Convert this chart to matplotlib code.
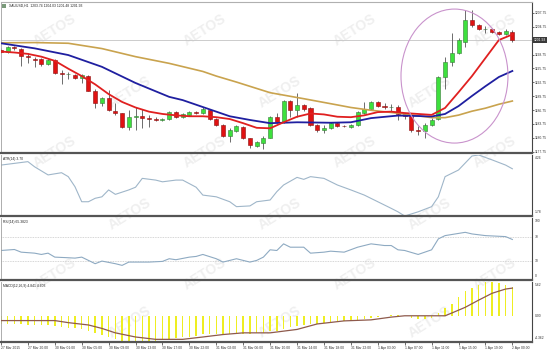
import matplotlib
matplotlib.use("Agg")
import matplotlib.pyplot as plt
import matplotlib.transforms as mtrans
from matplotlib.patches import Rectangle, Ellipse

# XAUUSD H1 candles
opens = [1199.8, 1199.3, 1200.3, 1199.9, 1198.5, 1197.9, 1197.7, 1196.7, 1197.6, 1194.8,
         1194.5, 1194.3, 1193.6, 1194.2, 1190.9, 1188.2, 1189.4, 1186.6, 1186.0, 1183.1,
         1185.2, 1185.4, 1185.1, 1184.9, 1184.7, 1184.9, 1186.3, 1185.2, 1185.7, 1186.3,
         1186.0, 1186.8, 1184.9, 1183.5, 1181.1, 1182.3, 1183.0, 1180.6, 1179.0, 1179.6,
         1180.8, 1185.2, 1184.1, 1188.8, 1186.8, 1187.8, 1187.2, 1183.5, 1182.5, 1182.8,
         1183.9, 1183.4, 1183.0, 1183.5, 1186.2, 1186.9, 1188.5, 1187.6, 1187.3, 1187.5,
         1185.8, 1185.5, 1182.4, 1182.2, 1183.5, 1184.8, 1193.8, 1197.2, 1199.0, 1201.5,
         1206.2, 1205.2, 1204.2, 1204.2, 1203.7, 1203.1, 1203.74]
highs = [1200.1, 1200.5, 1200.6, 1200.1, 1199.0, 1198.3, 1198.1, 1197.8, 1197.9, 1195.4,
         1195.0, 1194.5, 1194.5, 1194.4, 1191.4, 1189.6, 1191.1, 1188.2, 1186.2, 1186.7,
         1187.5, 1186.9, 1185.7, 1185.2, 1185.0, 1186.5, 1186.5, 1186.1, 1186.5, 1186.5,
         1187.4, 1187.0, 1185.1, 1183.7, 1182.8, 1183.6, 1183.2, 1180.8, 1180.0, 1181.1,
         1185.5, 1186.0, 1189.0, 1189.0, 1190.5, 1188.1, 1187.4, 1183.8, 1183.5, 1184.1,
         1184.1, 1183.6, 1183.7, 1186.6, 1188.5, 1188.7, 1188.8, 1188.2, 1188.1, 1187.8,
         1186.0, 1186.0, 1183.2, 1184.0, 1185.0, 1194.2, 1198.3, 1203.5, 1202.3, 1208.4,
         1208.5, 1205.4, 1204.9, 1204.4, 1203.9, 1204.2, 1204.03]
lows = [1199.0, 1199.1, 1199.8, 1196.3, 1196.9, 1196.1, 1196.3, 1196.5, 1194.5, 1192.3,
        1193.4, 1193.4, 1192.7, 1190.8, 1187.1, 1187.7, 1186.5, 1185.7, 1182.8, 1182.4,
        1182.4, 1182.8, 1183.1, 1184.4, 1184.4, 1184.7, 1185.0, 1185.0, 1185.5, 1185.8,
        1185.8, 1184.5, 1183.3, 1181.0, 1179.9, 1181.9, 1180.4, 1178.5, 1178.7, 1178.4,
        1180.6, 1183.9, 1183.9, 1185.3, 1185.3, 1186.5, 1183.3, 1182.0, 1181.8, 1182.6,
        1183.1, 1183.0, 1182.8, 1183.3, 1185.8, 1186.7, 1187.4, 1186.9, 1186.6, 1184.6,
        1184.8, 1182.0, 1181.3, 1180.8, 1183.3, 1184.6, 1191.4, 1196.3, 1198.8, 1200.3,
        1204.7, 1204.0, 1203.4, 1203.5, 1202.9, 1203.0, 1201.48]
closes = [1199.3, 1200.3, 1200.1, 1198.4, 1198.2, 1197.6, 1196.7, 1197.6, 1194.7, 1194.5,
          1194.6, 1193.6, 1194.3, 1190.9, 1188.2, 1189.4, 1186.7, 1186.0, 1183.1, 1185.2,
          1185.4, 1185.1, 1184.9, 1184.7, 1184.8, 1186.3, 1185.2, 1185.9, 1186.3, 1186.0,
          1186.9, 1184.9, 1183.5, 1181.1, 1182.4, 1183.2, 1180.6, 1179.2, 1179.9, 1180.8,
          1185.2, 1184.1, 1188.8, 1186.8, 1187.8, 1186.9, 1183.5, 1182.5, 1182.8, 1183.9,
          1183.4, 1183.2, 1183.5, 1186.4, 1186.9, 1188.5, 1187.6, 1187.3, 1187.5, 1185.8,
          1185.5, 1182.4, 1182.2, 1183.5, 1184.7, 1193.9, 1197.2, 1199.0, 1202.0, 1206.2,
          1205.2, 1204.2, 1204.2, 1203.7, 1203.1, 1203.8, 1201.93]

# moving averages (read at some bars)
red_idx = list(range(0, 77, 2))
red_val = [1199.4, 1199.2, 1198.9, 1198.3, 1197.4, 1195.7, 1194.1, 1192.3, 1190.2, 1188.5,
           1187.3, 1186.4, 1185.9, 1185.6, 1185.4, 1185.4, 1185.2, 1184.8, 1183.9, 1182.9,
           1182.8, 1184.1, 1185.3, 1186.0, 1185.8, 1185.3, 1185.2, 1185.6, 1186.3, 1186.4,
           1186.1, 1185.9, 1185.7, 1187.2, 1190.6, 1194.1, 1198.0, 1201.9, 1203.1]
blue_idx = [0, 5, 10, 15, 20, 22, 25, 27, 30, 32, 34, 37, 40, 44, 49, 52, 55, 59, 62, 64,
            66, 68, 70, 72, 74, 76]
blue_val = [1201.2, 1200.1, 1198.65, 1196.1, 1192.6, 1191.4, 1189.6, 1188.9, 1187.4, 1186.4,
            1185.4, 1184.6, 1183.9, 1184.1, 1184.0, 1184.1, 1185.0, 1185.55, 1185.45, 1185.35,
            1185.9, 1187.6, 1189.8, 1191.9, 1193.9, 1195.2]
gold_idx = [0, 5, 10, 15, 20, 25, 30, 32, 35, 40, 45, 50, 52, 55, 60, 64, 66, 68, 70, 72,
            74, 76]
gold_val = [1201.3, 1201.35, 1201.2, 1200.05, 1198.3, 1196.85, 1195.1, 1194.1, 1192.8, 1190.5,
            1189.2, 1187.85, 1187.3, 1186.7, 1185.9, 1185.1, 1185.1, 1185.65, 1186.5, 1187.15,
            1188.0, 1188.7]

atr_idx = [0, 2, 4, 5, 7, 9, 10, 11, 12, 13, 14, 15, 16, 17, 19, 20, 21, 23, 24, 26, 27, 29,
           30, 32, 34, 35, 37, 38, 40, 41, 42, 44, 45, 46, 48, 50, 52, 54, 56, 58, 59, 60,
           62, 64, 65, 66, 68, 70, 71, 73, 75, 76]
atr_val = [3.85, 3.92, 3.99, 3.78, 3.45, 3.54, 3.38, 2.97, 2.36, 2.36, 2.50, 2.56, 2.84, 2.66,
           2.84, 2.95, 3.31, 3.24, 3.17, 3.24, 3.24, 2.95, 2.63, 2.56, 2.36, 2.16, 2.19, 2.36,
           2.43, 2.77, 3.04, 3.35, 3.27, 3.38, 3.31, 3.04, 2.84, 2.63, 2.36, 2.09, 1.95, 1.78,
           1.95, 2.16, 2.56, 3.38, 3.65, 4.22, 4.26, 4.06, 3.85, 3.70]

rsi_idx = [0, 2, 3, 5, 6, 7, 8, 10, 11, 12, 13, 14, 15, 17, 18, 19, 22, 24, 25, 26, 28, 29,
           30, 32, 33, 35, 36, 37, 38, 39, 40, 41, 42, 43, 45, 46, 48, 49, 51, 53, 55, 57,
           58, 59, 60, 62, 64, 65, 66, 69, 70, 72, 75, 76]
rsi_val = [47.6, 49.2, 44.9, 43.3, 41.2, 43.3, 36.9, 35.9, 35.3, 36.9, 31.6, 26.3, 30.5, 26.3,
           23.6, 28.9, 28.9, 30.0, 34.3, 32.7, 36.9, 38.0, 41.2, 34.3, 28.9, 34.3, 31.6, 28.9,
           31.6, 36.9, 48.7, 47.6, 58.3, 52.9, 52.9, 43.3, 44.9, 46.5, 44.9, 52.9, 58.3, 55.6,
           55.6, 48.7, 47.6, 41.2, 48.7, 66.3, 71.6, 76.9, 74.3, 71.6, 70.0, 65.38]

macd_hist = [-1.3, -1.3, -1.35, -1.45, -1.5, -1.55, -1.6, -1.6, -1.75, -1.9,
             -2.0, -2.1, -2.2, -2.5, -2.9, -3.2, -3.5, -3.8, -4.15, -4.3,
             -4.362, -4.3, -4.2, -4.15, -4.05, -3.9, -3.75, -3.6, -3.45, -3.3,
             -3.1, -3.0, -3.0, -3.1, -3.1, -3.0, -2.95, -2.95, -2.9, -2.8,
             -2.6, -2.45, -2.2, -1.9, -1.7, -1.5, -1.4, -1.3, -1.2, -1.1,
             -1.0, -0.9, -0.85, -0.8, -0.6, -0.4, -0.2, -0.1, 0.05, 0.1,
             -0.1, -0.3, -0.5, -0.5, -0.4, 0.4, 1.3, 2.0, 3.1, 4.1,
             4.7, 5.2, 5.55, 5.62, 5.45, 5.2, 4.841]
sig_idx = [0, 8, 10, 13, 15, 17, 20, 23, 27, 30, 33, 36, 40, 44, 47, 51, 55, 58, 60, 66, 67,
           69, 71, 73, 75, 76]
sig_val = [-0.80, -0.80, -1.14, -1.53, -2.10, -2.84, -3.53, -3.92, -3.92, -3.53, -3.12, -2.84,
           -2.84, -2.27, -1.36, -0.85, -0.68, -0.22, 0.0, 0.0, 0.46, 1.41, 2.61, 3.75, 4.45,
           4.603]

time_labels = ["27 Mar 2015", "27 Mar 20:00", "30 Mar 01:00", "30 Mar 05:00", "30 Mar 09:00",
               "30 Mar 13:00", "30 Mar 17:00", "30 Mar 22:00", "31 Mar 02:00", "31 Mar 06:00",
               "31 Mar 10:00", "31 Mar 14:00", "31 Mar 18:00", "31 Mar 22:00", "1 Apr 03:00",
               "1 Apr 07:00", "1 Apr 11:00", "1 Apr 15:00", "1 Apr 19:00", "2 Apr 00:00"]
price_ticks = [1207.75, 1204.75, 1198.75, 1195.75, 1192.75, 1189.75, 1186.75, 1183.75,
               1180.75, 1177.75]
last_price = 1201.93

plt.rcParams['font.family'] = ['Liberation Sans', 'DejaVu Sans']
W, H = 550, 352
fs = 2.4
fig = plt.figure(figsize=(W / 100, H / 100), dpi=100, facecolor='white')

# faint watermark, kept inside the picture
for r, yy in enumerate([30, 92, 152, 214, 274, 322]):
    xs = [55, 205, 355, 495] if r % 2 == 0 else [130, 280, 430]
    for xx in xs:
        fig.text(xx / W, 1 - yy / H, 'AETOS', fontsize=10, fontweight='bold',
                 color='#efefef', rotation=32, ha='center', va='center', zorder=-5)


def panel(top, bottom):
    ax = fig.add_axes([0.5 / W, 1 - bottom / H, 531.5 / W, (bottom - top) / H])
    ax.set_facecolor('none')
    ax.set_xlim(-0.07, 78.92)
    ax.spines['left'].set_color('#a0a0a0')
    ax.spines['left'].set_linewidth(0.6)
    ax.spines['right'].set_color('#444444')
    ax.spines['right'].set_linewidth(0.8)
    ax.spines['bottom'].set_color('#555555')
    ax.spines['bottom'].set_linewidth(1.6)
    ax.spines['top'].set_visible(False)
    ax.yaxis.tick_right()
    ax.tick_params(axis='y', length=1.5, width=0.5, labelsize=fs, pad=0.8, colors='#333333')
    ax.tick_params(axis='x', bottom=False, labelbottom=False)
    return ax


ax1 = panel(2, 153)
ax2 = panel(155, 216)
ax3 = panel(218, 280)
ax4 = panel(282, 342)
ax1.spines['top'].set_visible(True)
ax1.spines['top'].set_color('#b0b0b0')
ax1.spines['top'].set_linewidth(0.8)

# --- main price panel
ax1.set_ylim(1177.45, 1210.13)
ax1.axhline(last_price, color='#c4c4c4', lw=0.6, zorder=1)
for i in range(len(opens)):
    o, h, l, c = opens[i], highs[i], lows[i], closes[i]
    ax1.vlines(i, l, h, color='#555555', lw=0.6, zorder=2)
    up = c >= o
    body = max(abs(c - o), 0.12)
    ax1.add_patch(Rectangle((i - 0.3, min(o, c)), 0.6, body,
                            facecolor='#3de03d' if up else '#e01212',
                            edgecolor='#3a7a3a' if up else '#8a1010',
                            lw=0.4, zorder=3))
ax1.plot(gold_idx, gold_val, color='#c9a34e', lw=1.2, zorder=4)
ax1.plot(blue_idx, blue_val, color='#1f1fa0', lw=1.3, zorder=4)
ax1.plot(red_idx, red_val, color='#e02020', lw=1.3, zorder=5)
ax1.add_patch(Ellipse((67.4, 1194.1), 15.9, 29.0, fill=False, edgecolor='#c993cc', lw=0.8,
                      zorder=6))
ax1.set_yticks(price_ticks)
ax1.set_yticklabels(['%.2f' % p for p in price_ticks])
tr = mtrans.blended_transform_factory(ax1.transAxes, ax1.transData)
ax1.text(1.004, last_price, '%.2f' % last_price, transform=tr, fontsize=fs, color='white',
         va='center', ha='left',
         bbox=dict(facecolor='#3a3a3a', edgecolor='none', pad=0.6))
fig.text(9 / W, 1 - 6 / H, 'XAUUSD,H1  1203.74 1204.03 1201.48 1201.93', fontsize=fs,
         color='#222222', va='center')
fig.patches.append(Rectangle((2 / W, 1 - 8 / H), 4 / W, 4 / H, transform=fig.transFigure,
                             facecolor='#7a9a7a', edgecolor='none', figure=fig))

# --- ATR
ax2.set_ylim(1.78, 4.26)
ax2.plot(atr_idx, atr_val, color='#9fb6c9', lw=0.8)
ax2.set_yticks([])
ax2.text(1.006, 0.98, '4.26', transform=ax2.transAxes, fontsize=fs, va='top', color='#333')
ax2.text(1.006, 0.03, '1.78', transform=ax2.transAxes, fontsize=fs, va='bottom', color='#333')
ax2.text(0.005, 0.96, 'ATR(14) 3.70', transform=ax2.transAxes, fontsize=fs, va='top',
         color='#222')

# --- RSI
ax3.set_ylim(0, 100)
for lvl in (70, 30):
    ax3.axhline(lvl, color='#c8c8c8', lw=0.6, ls=(0, (1, 1)))
ax3.plot(rsi_idx, rsi_val, color='#8eaac2', lw=0.8)
ax3.set_yticks([])
for v, va in ((100, 'top'), (70, 'center'), (30, 'center'), (0, 'bottom')):
    yy = {100: 0.98, 0: 0.03}.get(v, v / 100)
    ax3.text(1.006, yy, str(v), transform=ax3.transAxes, fontsize=fs, va=va, color='#333')
ax3.text(0.005, 0.96, 'RSI(14) 65.3823', transform=ax3.transAxes, fontsize=fs, va='top',
         color='#222')

# --- MACD
ax4.set_ylim(-4.362, 5.62)
ax4.bar(range(len(macd_hist)), macd_hist, width=0.22, color='#eeee22', zorder=2)
ax4.plot(sig_idx, sig_val, color='#8e5a4c', lw=0.9, zorder=3)
ax4.set_yticks([])
ax4.text(1.006, 0.98, '5.62', transform=ax4.transAxes, fontsize=fs, va='top', color='#333')
ax4.text(1.006, 4.362 / 9.982, '0.00', transform=ax4.transAxes, fontsize=fs, va='center',
         color='#333')
ax4.text(1.006, 0.03, '-4.362', transform=ax4.transAxes, fontsize=fs, va='bottom',
         color='#333')
ax4.text(0.005, 0.96, 'MACD(12,26,9) 4.841 4.603', transform=ax4.transAxes, fontsize=fs,
         va='top', color='#222')
ax4.set_xticks(range(0, 77, 4))
ax4.set_xticklabels(time_labels, ha='left')
ax4.tick_params(axis='x', bottom=True, labelbottom=True, length=2, width=0.5,
                labelsize=fs, pad=1, colors='#333333')

fig.savefig('out.png', dpi=100, facecolor='white')
